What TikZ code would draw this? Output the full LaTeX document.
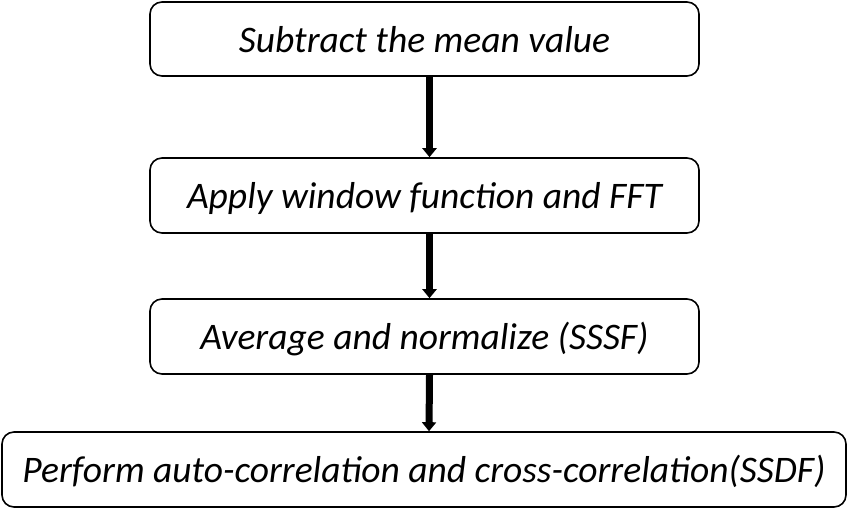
\documentclass[tikz,border=0pt]{standalone}
\usepackage{fontspec}
\setmainfont{Carlito}
\usetikzlibrary{arrows.meta}
\begin{document}
\begin{tikzpicture}[x=1pt,y=-1pt,
  stepbox/.style={draw=black,line width=1.6pt,rounded corners=12pt,fill=white,inner sep=0pt,text height=34pt,text depth=8pt,font=\fontsize{37.5}{42}\selectfont\itshape},
  flowarrow/.style={line width=7pt,-{Triangle[width=14pt,length=9pt]}}]
\useasboundingbox (0,0) rectangle (850,515);
\node[stepbox,minimum width=549pt,minimum height=74pt] (a) at (424.5,39) {Subtract the mean value};
\node[stepbox,minimum width=549pt,minimum height=75pt] (b) at (424.5,195.5) {Apply window function and FFT};
\node[stepbox,minimum width=549pt,minimum height=75pt] (c) at (424.5,336.5) {Average and normalize (SSSF)};
\node[stepbox,minimum width=844pt,minimum height=75pt] (d) at (424,469.5) {Perform auto-correlation and cross-correlation(SSDF)};
\draw[flowarrow] ([xshift=5pt]a.south) -- ([xshift=5pt]b.north);
\draw[flowarrow] ([xshift=5pt]b.south) -- ([xshift=5pt]c.north);
\draw[flowarrow] ([xshift=5pt]c.south) -- ([xshift=5pt]d.north);
\end{tikzpicture}
\end{document}
